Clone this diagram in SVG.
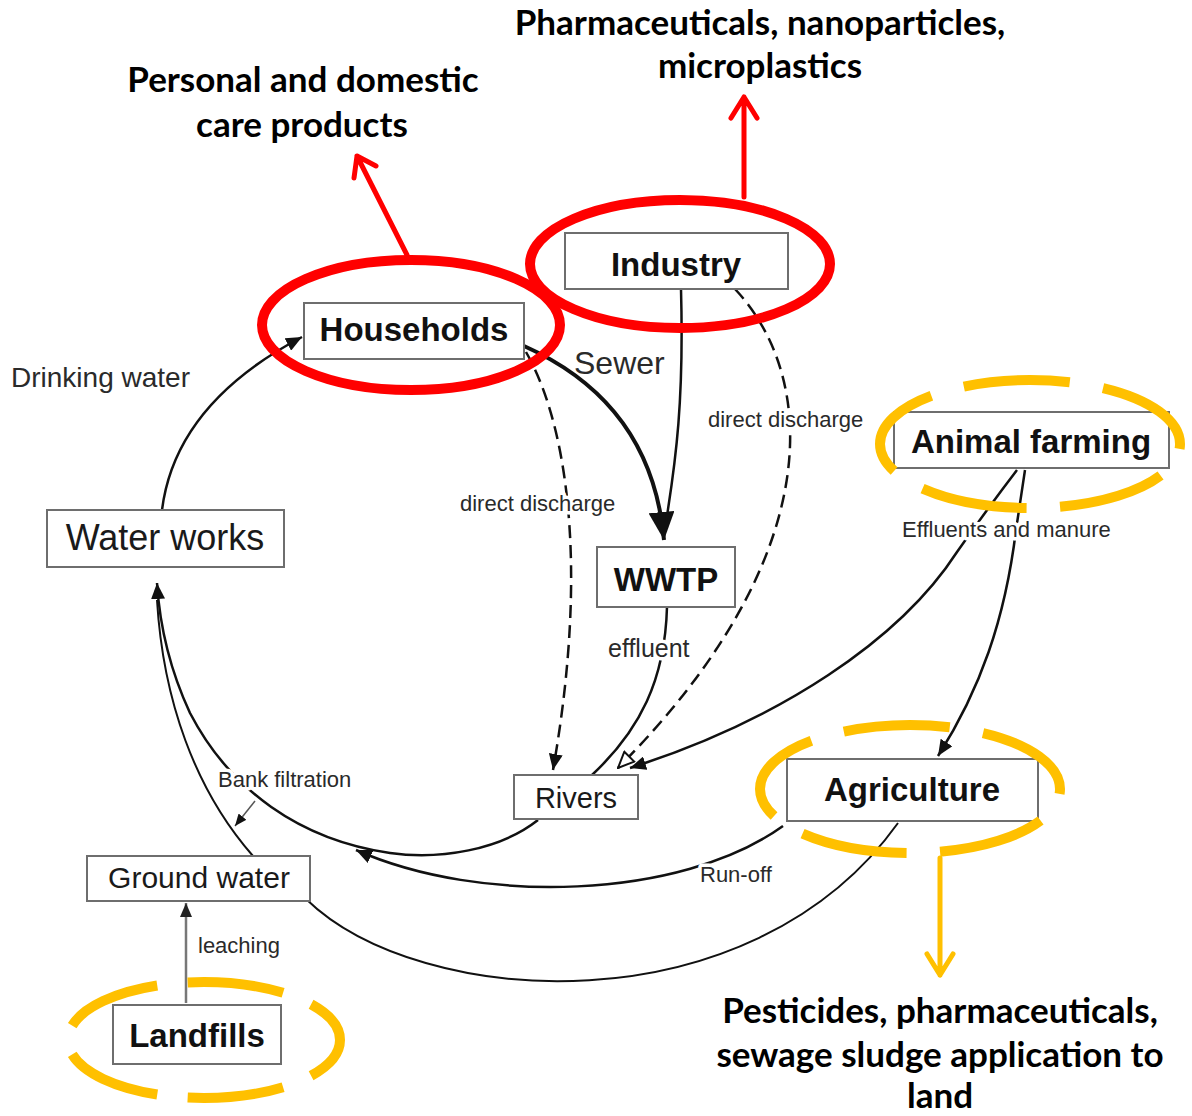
<svg xmlns="http://www.w3.org/2000/svg" width="1192" height="1116" viewBox="0 0 1192 1116">
<style>
.box{fill:#fff;stroke:#6e6e6e;stroke-width:2}
.nb{font-family:"Liberation Sans",Arial,sans-serif;font-weight:bold;font-size:33px;fill:#111;text-anchor:middle}
.nr{font-family:"Liberation Sans",Arial,sans-serif;font-size:30px;fill:#1a1a1a;text-anchor:middle}
.lbl{font-family:"Liberation Sans",Arial,sans-serif;font-size:22px;fill:#2a2a2a;paint-order:stroke;stroke:#fff;stroke-width:7px;stroke-linejoin:round}
.ln{fill:none;stroke:#111;stroke-width:2.5}
.dash{stroke-dasharray:13 7}
.call{font-family:Lato,"Liberation Sans",sans-serif;font-weight:bold;font-size:35px;fill:#000;text-anchor:middle}
.red{fill:none;stroke:#ff0000;stroke-width:10}
.redarr{fill:none;stroke:#ff0000;stroke-width:5;stroke-linecap:round;stroke-linejoin:round}
.yel{fill:none;stroke:#ffc000;stroke-width:10;stroke-dasharray:15.2 4.8}
.yelarr{fill:none;stroke:#ffc000;stroke-width:5;stroke-linecap:round;stroke-linejoin:round}
</style>
<defs>
<marker id="ah" viewBox="0 0 16 14" refX="16" refY="7" markerWidth="16" markerHeight="14" markerUnits="userSpaceOnUse" orient="auto"><path d="M0,0 L16,7 L0,14 z" fill="#111"/></marker>
<marker id="ahBig" viewBox="0 0 28 26" refX="28" refY="13" markerWidth="28" markerHeight="26" markerUnits="userSpaceOnUse" orient="auto"><path d="M0,0 L28,13 L0,26 z" fill="#111"/></marker>
<marker id="ahOpen" viewBox="0 0 18 16" refX="17" refY="8" markerWidth="18" markerHeight="16" markerUnits="userSpaceOnUse" orient="auto"><path d="M1,1 L17,8 L1,15 z" fill="#fff" stroke="#111" stroke-width="2"/></marker>
<marker id="ahGray" viewBox="0 0 14 12" refX="14" refY="6" markerWidth="14" markerHeight="12" markerUnits="userSpaceOnUse" orient="auto"><path d="M0,0 L14,6 L0,12 z" fill="#222"/></marker>
<marker id="ahSm" viewBox="0 0 12 10" refX="12" refY="5" markerWidth="12" markerHeight="10" markerUnits="userSpaceOnUse" orient="auto"><path d="M0,0 L12,5 L0,10 z" fill="#111"/></marker>
</defs>
<rect width="1192" height="1116" fill="#fff"/>

<g id="connectors">
  <path class="ln" d="M162,510 C172,430 230,375 302,337" marker-end="url(#ah)"/>
  <path class="ln" style="stroke-width:4" d="M524,346 C600,380 655,440 664,540" marker-end="url(#ahBig)"/>
  <path class="ln" d="M681,289 C684,400 676,460 666,522"/>
  <path class="ln dash" d="M526,352 C565,420 590,560 553,770" marker-end="url(#ah)"/>
  <path class="ln dash" d="M735,289 C820,380 825,560 618,768" marker-end="url(#ahOpen)"/>
  <path class="ln" d="M667,607 C665,680 640,730 592,775"/>
  <path class="ln" d="M1017,470 Q985,512 957,552 C900,640 780,720 630,768" marker-end="url(#ah)"/>
  <path class="ln" d="M1025,470 L1016,530 C1005,620 980,690 938,756" marker-end="url(#ah)"/>
  <path class="ln" d="M538,820 C500,850 440,860 390,853 C300,840 230,790 190,713 C170,670 160,630 157,583" marker-end="url(#ah)"/>
  <path class="ln" d="M783,826 C680,900 480,905 356,850" marker-end="url(#ah)"/>
  <path class="ln" style="stroke-width:2" d="M253,856 C195,790 163,700 157,600"/>
  <path fill="none" stroke="#555" stroke-width="1.5" d="M255,801 L235,826" marker-end="url(#ahSm)"/>
  <path class="ln" style="stroke-width:2" d="M306,899 C420,1010 750,1030 898,823"/>
  <path fill="none" stroke="#777" stroke-width="2.5" d="M186,1003 L186,903" marker-end="url(#ahGray)"/>
</g>

<g id="labels">
  <text class="lbl" x="11" y="387" style="font-size:28px;stroke-width:0">Drinking water</text>
  <text class="lbl" x="574" y="374" style="font-size:32px;stroke-width:0">Sewer</text>
  <text class="lbl" x="460" y="511">direct discharge</text>
  <text class="lbl" x="708" y="427">direct discharge</text>
  <text class="lbl" x="902" y="537">Effluents and manure</text>
  <text class="lbl" x="608" y="657" style="font-size:25px">effluent</text>
  <text class="lbl" x="218" y="787">Bank filtration</text>
  <text class="lbl" x="700" y="882">Run-off</text>
  <text class="lbl" x="198" y="953">leaching</text>
</g>

<g id="households"><rect class="box" x="304" y="303" width="220" height="56"/><text class="nb" x="414" y="341">Households</text></g>
<g id="industry"><rect class="box" x="565" y="233" width="223" height="56"/><text class="nb" x="676" y="276">Industry</text></g>
<g id="animal-farming"><rect class="box" x="894" y="412" width="275" height="56"/><text class="nb" x="1031" y="453">Animal farming</text></g>
<g id="wwtp"><rect class="box" x="597" y="547" width="138" height="60"/><text class="nb" x="666" y="591">WWTP</text></g>
<g id="rivers"><rect class="box" x="514" y="775" width="124" height="44"/><text class="nr" x="576" y="808" style="font-size:29px">Rivers</text></g>
<g id="agriculture"><rect class="box" x="787" y="759" width="251" height="62"/><text class="nb" x="912" y="801">Agriculture</text></g>
<g id="water-works"><rect class="box" x="47" y="510" width="237" height="57"/><text class="nr" x="165" y="550" style="font-size:36px">Water works</text></g>
<g id="ground-water"><rect class="box" x="87" y="856" width="223" height="45"/><text class="nr" x="199" y="888">Ground water</text></g>
<g id="landfills"><rect class="box" x="113" y="1005" width="168" height="59"/><text class="nb" x="197" y="1047">Landfills</text></g>

<g id="highlights">
  <ellipse class="red" cx="411" cy="325" rx="149" ry="65"/>
  <ellipse class="red" cx="680" cy="264" rx="150" ry="64"/>
  <ellipse class="yel" cx="1030" cy="444" rx="150" ry="64" pathLength="100" stroke-dashoffset="14.5"/>
  <ellipse class="yel" cx="910" cy="789" rx="150" ry="64" pathLength="100" stroke-dashoffset="14.5"/>
  <ellipse class="yel" cx="204" cy="1040" rx="136" ry="58" pathLength="100" stroke-dashoffset="7.6"/>
</g>

<g id="callouts">
  <path class="redarr" d="M407,255 L357,156 M354,178 L357,156 L376,166"/>
  <path class="redarr" d="M744,197 L744,97 M731,118 L744,97 L757,118"/>
  <path class="yelarr" d="M940,858 L940,975 M927,954 L940,975 L953,954"/>
  <text class="call" x="760" y="35">Pharmaceuticals, nanoparticles,</text>
  <text class="call" x="760" y="78">microplastics</text>
  <text class="call" x="303" y="92">Personal and domestic</text>
  <text class="call" x="302" y="137">care products</text>
  <text class="call" x="940" y="1023">Pesticides, pharmaceuticals,</text>
  <text class="call" x="940" y="1067">sewage sludge application to</text>
  <text class="call" x="940" y="1108">land</text>
</g>
</svg>
